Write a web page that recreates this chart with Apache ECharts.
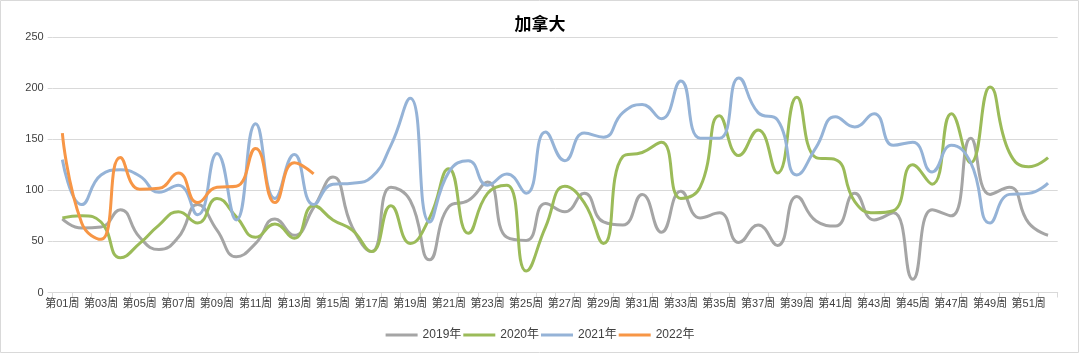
<!DOCTYPE html>
<html>
<head>
<meta charset="utf-8">
<script src="https://cdn.jsdelivr.net/npm/echarts@6/dist/echarts.min.js"></script>
<style>
html,body{margin:0;padding:0;background:#fff;}
#c{width:1080px;height:354px;}
</style>
</head>
<body>
<div id="c"></div>
<script>
const weeks = [];
for (let i = 1; i <= 52; i++) weeks.push('第' + (i < 10 ? '0' + i : '' + i) + '周');

const s2019 = [72,63,64,81,54,42,54,86,61,35,48,72,56,83,113,64,40,103,90,32,84,90,108,54,51,87,79,97,69,66,96,59,99,73,78,49,66,46,94,70,65,97,71,78,13,81,75,151,96,103,68,56];
const s2020 = [73,75,69,34,48,66,79,68,92,74,54,67,53,85,71,61,40,85,48,73,121,58,97,105,21,64,104,88,48,133,137,147,92,103,173,134,159,117,191,132,130,89,78,80,125,106,175,127,201,137,123,132];
const s2021 = [130,86,115,120,114,98,105,76,136,71,165,92,135,86,106,107,113,144,190,69,118,129,105,116,97,157,129,156,152,176,184,170,207,151,151,210,176,169,115,142,172,162,175,144,147,118,144,127,68,96,97,107];
const s2022 = [156,68,52,132,101,102,117,88,103,104,141,88,127,116];

const seriesNames = ['2019年','2020年','2021年','2022年'];
const colors = ['#A5A5A5','#9BBB59','#95B3D7','#F79646'];
const seriesData = [s2019, s2020, s2021, s2022];

const font = "'Liberation Sans','Noto Sans CJK SC',sans-serif";
const chart = echarts.init(document.getElementById('c'));
chart.setOption({
  animation: false,
  color: colors,
  title: {
    text: '加拿大', left: 'center', top: 10,
    textStyle: {fontSize: 17, fontWeight: 'bold', color: '#000', fontFamily: "'Noto Sans CJK SC',sans-serif"}
  },
  graphic: [{
    type: 'rect', shape: {x: 0.5, y: 0.5, width: 1078, height: 352},
    style: {fill: 'none', stroke: '#d9d9d9', lineWidth: 1}, silent: true, z: -1
  }],
  legend: {
    bottom: 8, left: 'center', icon: 'rect', itemWidth: 32, itemHeight: 3, itemGap: 2,
    textStyle: {fontSize: 12, color: '#404040', fontFamily: font},
    data: seriesNames
  },
  grid: {left: 52.7, right: 22.3, top: 37, bottom: 61.5, containLabel: false},
  xAxis: {
    type: 'category', data: weeks, boundaryGap: true,
    axisLine: {lineStyle: {color: '#d9d9d9'}},
    axisTick: {show: true, interval: 0, length: 5, lineStyle: {color: '#d9d9d9'}},
    axisLabel: {interval: 1, fontSize: 11, color: '#404040', fontFamily: font, margin: 6}
  },
  yAxis: {
    type: 'value', min: 0, max: 250, interval: 50,
    axisLine: {show: false},
    axisTick: {show: true, length: 5, lineStyle: {color: '#d9d9d9'}},
    splitLine: {lineStyle: {color: '#d9d9d9'}},
    axisLabel: {fontSize: 11, color: '#404040', fontFamily: font, margin: 9}
  },
  series: seriesData.map((d, i) => ({
    name: seriesNames[i], type: 'line', data: d, smooth: 0.5,
    showSymbol: false, symbol: 'none',
    lineStyle: {width: 3, color: colors[i]}, itemStyle: {color: colors[i]}
  }))
});
</script>
</body>
</html>
